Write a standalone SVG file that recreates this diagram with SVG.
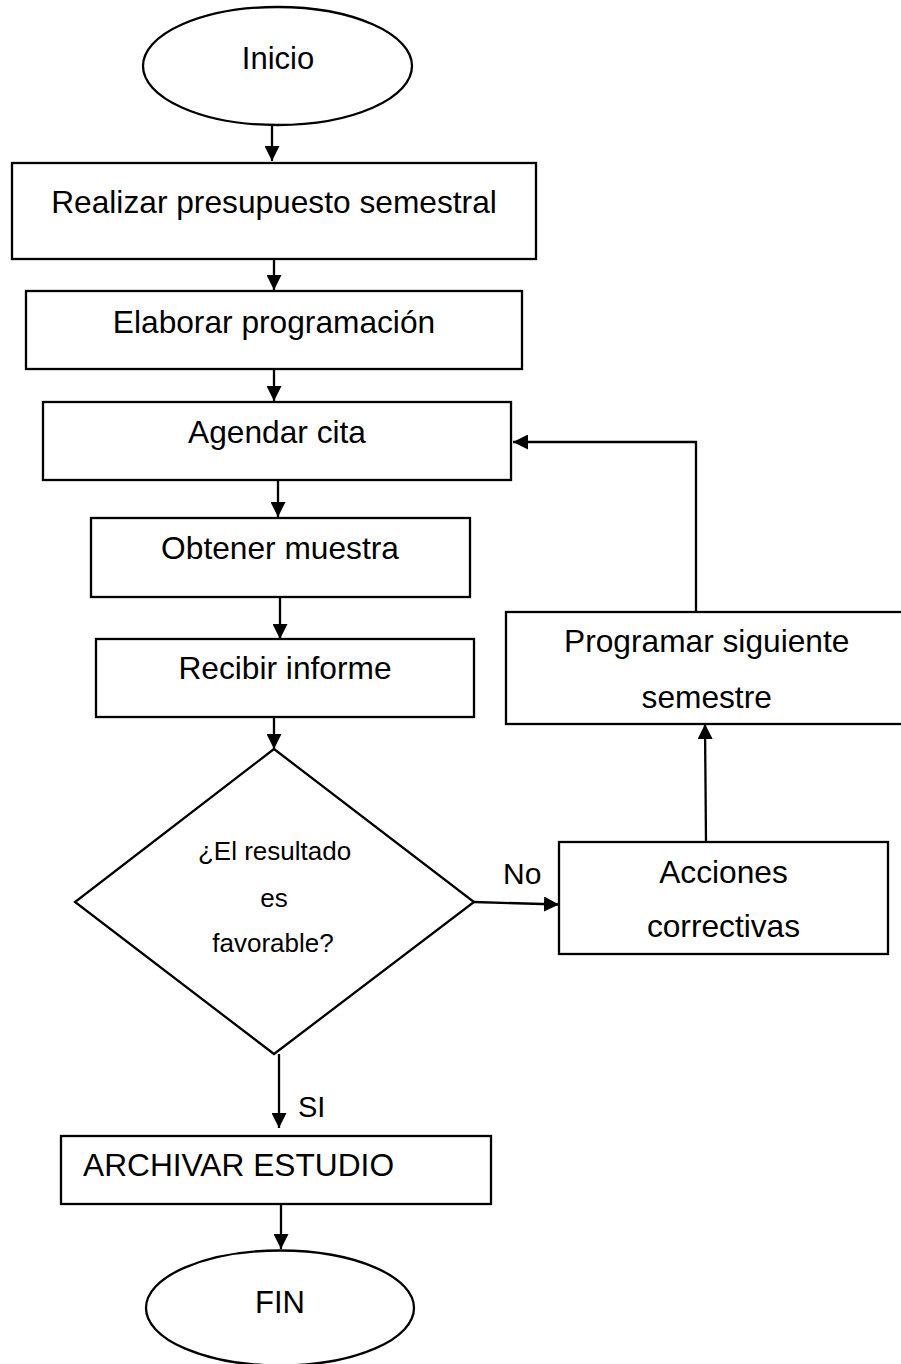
<svg xmlns="http://www.w3.org/2000/svg" width="901" height="1364" viewBox="0 0 901 1364">
<style>
.shape{fill:#fff;stroke:#000;stroke-width:2.3}
.lbl{font-family:"Liberation Sans",Arial,sans-serif;font-size:31.7px;fill:#000;text-anchor:middle}
.small{font-size:26px}
.start{text-anchor:start}
.conn{fill:none;stroke:#000;stroke-width:2.3}
</style>
<defs>
<marker id="ah" markerUnits="userSpaceOnUse" markerWidth="16" markerHeight="15" refX="15" refY="7.5" orient="auto">
<path d="M0,0 L15,7.5 L0,15 z" fill="#000"/>
</marker>
</defs>
<rect width="901" height="1364" fill="#fff"/>
<g id="connectors">
<path class="conn" d="M272,125 L272,161" marker-end="url(#ah)"/>
<path class="conn" d="M274,259 L274,290" marker-end="url(#ah)"/>
<path class="conn" d="M274,369 L274,401" marker-end="url(#ah)"/>
<path class="conn" d="M278,480 L278,517" marker-end="url(#ah)"/>
<path class="conn" d="M280,597 L280,639" marker-end="url(#ah)"/>
<path class="conn" d="M274,717 L274,749" marker-end="url(#ah)"/>
<path class="conn" d="M279,1054 L279,1128" marker-end="url(#ah)"/>
<path class="conn" d="M281,1204 L281,1249" marker-end="url(#ah)"/>
<path class="conn" d="M474,902 L559,904.5" marker-end="url(#ah)"/>
<path class="conn" d="M706,842 L705,724" marker-end="url(#ah)"/>
<path class="conn" d="M696,612 L696,442 L513,442" marker-end="url(#ah)"/>
<text class="lbl start" x="503" y="884" style="font-size:30px">No</text>
<text class="lbl start" x="298" y="1117" style="font-size:29px">SI</text>
</g>
<g id="inicio">
<ellipse class="shape" cx="277.5" cy="66" rx="134.5" ry="59"/>
<text class="lbl" x="278" y="69" style="font-size:31px">Inicio</text>
</g>
<g id="presupuesto">
<rect class="shape" x="12" y="163" width="524" height="96"/>
<text class="lbl" x="274" y="213">Realizar presupuesto semestral</text>
</g>
<g id="programacion">
<rect class="shape" x="26" y="291" width="496" height="78"/>
<text class="lbl" x="274" y="333">Elaborar programación</text>
</g>
<g id="agendar">
<rect class="shape" x="43" y="402" width="468" height="78"/>
<text class="lbl" x="277" y="443">Agendar cita</text>
</g>
<g id="muestra">
<rect class="shape" x="91" y="518" width="379" height="79"/>
<text class="lbl" x="280" y="559">Obtener muestra</text>
</g>
<g id="informe">
<rect class="shape" x="96" y="639" width="378" height="78"/>
<text class="lbl" x="285" y="679">Recibir informe</text>
</g>
<g id="decision">
<polygon class="shape" points="274,749 474,902 274,1054 75,902"/>
<text class="lbl small" x="274.5" y="860">¿El resultado</text>
<text class="lbl small" x="274" y="907">es</text>
<text class="lbl small" x="273" y="952">favorable?</text>
</g>
<g id="acciones">
<rect class="shape" x="559" y="842" width="329" height="112"/>
<text class="lbl" x="723.5" y="883">Acciones</text>
<text class="lbl" x="723.5" y="937">correctivas</text>
</g>
<g id="siguiente">
<rect class="shape" x="506" y="612" width="400" height="112"/>
<text class="lbl" x="706.7" y="652">Programar siguiente</text>
<text class="lbl" x="706.7" y="708">semestre</text>
</g>
<g id="archivar">
<rect class="shape" x="61" y="1136" width="430" height="68"/>
<text class="lbl start" x="83" y="1176">ARCHIVAR ESTUDIO</text>
</g>
<g id="fin">
<ellipse class="shape" cx="280" cy="1308" rx="134" ry="57.5"/>
<text class="lbl" x="280" y="1313" style="font-size:31px">FIN</text>
</g>
</svg>
